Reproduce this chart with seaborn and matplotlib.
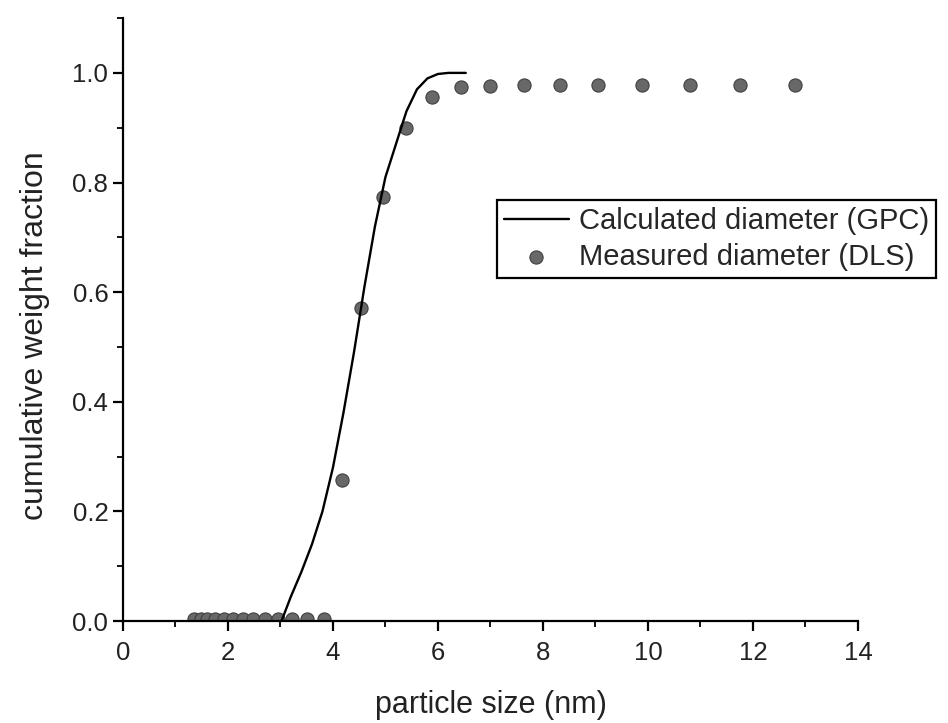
import matplotlib
matplotlib.use("Agg")
import matplotlib.pyplot as plt
from matplotlib.ticker import MultipleLocator
import pandas as pd
import seaborn as sns

# Calculated cumulative distribution from GPC
gpc_size = [3.02, 3.2, 3.4, 3.6, 3.8, 4.0, 4.2, 4.4, 4.6, 4.8, 5.0, 5.2,
            5.4, 5.6, 5.8, 6.0, 6.2, 6.53]
gpc_frac = [0.0, 0.045, 0.09, 0.14, 0.2, 0.28, 0.38, 0.49, 0.61, 0.72, 0.81,
            0.87, 0.93, 0.97, 0.99, 0.998, 1.0, 1.0]

# Measured cumulative distribution from DLS
dls_size = [1.36, 1.48, 1.61, 1.76, 1.92, 2.09, 2.28, 2.48, 2.71, 2.95, 3.22,
            3.51, 3.82, 4.17, 4.53, 4.95, 5.39, 5.89, 6.44, 6.99, 7.64, 8.32,
            9.05, 9.89, 10.8, 11.75, 12.8]
dls_frac = [0.003, 0.003, 0.003, 0.003, 0.003, 0.003, 0.003, 0.003, 0.003,
            0.003, 0.003, 0.003, 0.003, 0.257, 0.571, 0.774, 0.90, 0.956,
            0.974, 0.976, 0.977, 0.977, 0.977, 0.977, 0.977, 0.977, 0.977]

x_ticks = [0, 2, 4, 6, 8, 10, 12, 14]
y_ticks = [0.0, 0.2, 0.4, 0.6, 0.8, 1.0]

sns.set_theme(style="ticks")
plt.rcParams["font.family"] = ["Liberation Sans", "DejaVu Sans"]

fig = plt.figure(figsize=(9.48, 7.23), dpi=100)
ax = fig.add_axes([0.1297, 0.141, 0.7753, 0.834])

gpc = pd.DataFrame({"size": gpc_size, "frac": gpc_frac})
dls = pd.DataFrame({"size": dls_size, "frac": dls_frac})

sns.lineplot(data=gpc, x="size", y="frac", ax=ax, color="black", lw=1.7,
             label="Calculated diameter (GPC)", zorder=3)
sns.scatterplot(data=dls, x="size", y="frac", ax=ax, s=90, color="#686868",
                edgecolor="#404040", linewidth=0.8,
                label="Measured diameter (DLS)", zorder=2)

ax.set_xlim(0, 14)
ax.set_ylim(0, 1.1)
ax.set_xticks(x_ticks)
ax.set_yticks(y_ticks)
ax.set_xticklabels([str(v) for v in x_ticks])
ax.set_yticklabels([f"{v:.1f}" for v in y_ticks])
ax.xaxis.set_minor_locator(MultipleLocator(1))
ax.yaxis.set_minor_locator(MultipleLocator(0.1))

for side in ("top", "right"):
    ax.spines[side].set_visible(False)
for side in ("left", "bottom"):
    ax.spines[side].set_linewidth(1.6)
    ax.spines[side].set_color("black")
    ax.spines[side].set_zorder(4)

ax.tick_params(which="major", direction="out", length=7.5, width=1.6,
               color="black", labelsize=18.5, labelcolor="#222222")
ax.tick_params(axis="x", which="major", pad=7)
ax.tick_params(axis="y", which="major", pad=3)
ax.tick_params(which="minor", direction="out", length=4, width=1.3,
               color="black")

ax.set_xlabel("particle size (nm)", fontsize=22, color="#222222", labelpad=18)
ax.set_ylabel("cumulative weight fraction", fontsize=23, color="#222222")
ax.yaxis.set_label_coords(-0.099, 0.473)

leg = ax.legend(loc="upper left", bbox_to_anchor=(0.509, 0.698),
                borderaxespad=0, fontsize=21, frameon=True, fancybox=False,
                handlelength=2.2, handletextpad=0.35, labelspacing=0.25,
                borderpad=0.25)
leg.get_frame().set_edgecolor("black")
leg.get_frame().set_linewidth(1.6)
leg.get_frame().set_facecolor("white")
leg.get_frame().set_alpha(1)

fig.savefig("out.png", dpi=100)
